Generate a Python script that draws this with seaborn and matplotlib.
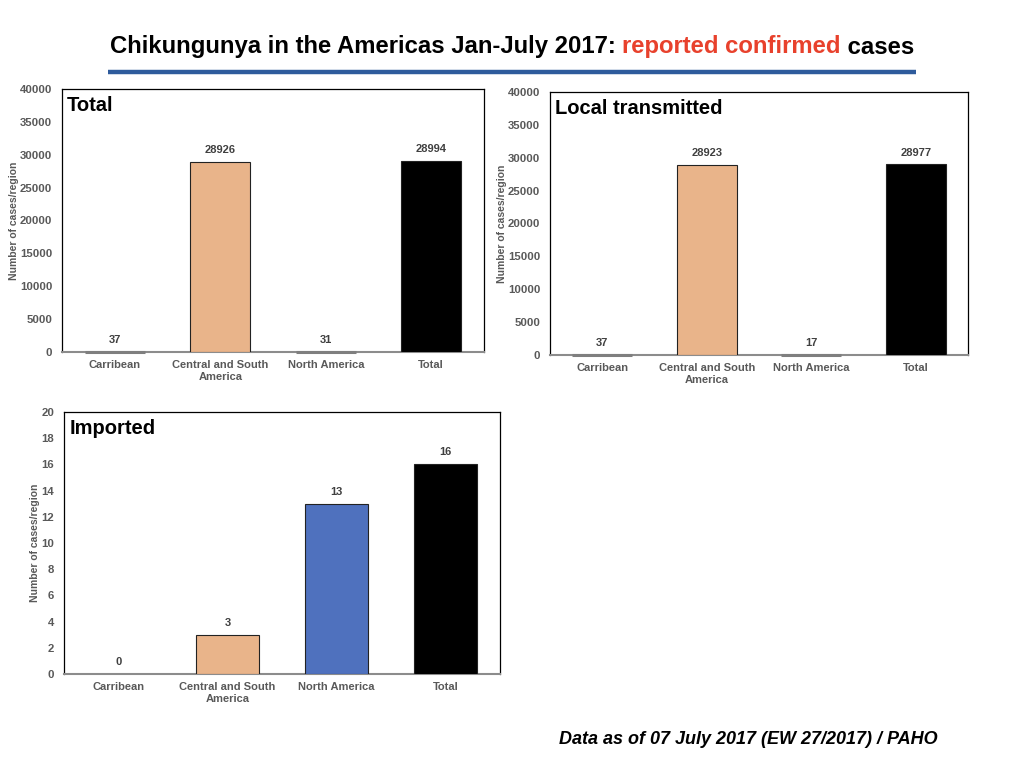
import numpy as np
import pandas as pd
import matplotlib
matplotlib.use("Agg")
import matplotlib.pyplot as plt
import seaborn as sns

# data
regions = ["Carribean", "Central and South\nAmerica", "North America", "Total"]
total_cases = [37, 28926, 31, 28994]
local_cases = [37, 28923, 17, 28977]
imported_cases = [0, 3, 13, 16]

bar_colors = ["#A5A5A5", "#E9B48A", "#4F71BE", "#000000"]

sns.set_theme(style="white")
plt.rcParams['font.family'] = ['Liberation Sans', 'DejaVu Sans']

fig = plt.figure(figsize=(10.24, 7.68), dpi=100)

def px_axes(x0, y0, x1, y1):
    # pixel box (top-left origin) -> figure fraction
    return fig.add_axes([x0 / 1024, 1 - y1 / 768, (x1 - x0) / 1024, (y1 - y0) / 768])

def panel(ax, values, name, ymax, step):
    df = pd.DataFrame({"region": regions, "cases": values})
    sns.barplot(data=df, x="region", y="cases", hue="region", palette=bar_colors,
                saturation=1, width=0.57, edgecolor="#222222", linewidth=0.8,
                legend=False, ax=ax)
    # tiny bars show up as a grey line on the axis
    for p, v in zip(ax.patches, values):
        p.set_zorder(3)
        if v == 0:
            p.set_visible(False)
        elif v < ymax * 0.01:
            p.set_edgecolor("#7F7F7F")
            p.set_facecolor("#7F7F7F")
            p.set_linewidth(2.2)
            p.set_clip_on(False)
    ax.set_ylim(0, ymax)
    ax.set_yticks(np.arange(0, ymax + 1, step))
    ax.set_xlim(-0.5, 3.5)
    ax.tick_params(axis="y", length=0, labelsize=8.2, labelcolor="#595959", pad=7)
    ax.tick_params(axis="x", length=0, labelsize=8, labelcolor="#595959", pad=6)
    for lab in ax.get_xticklabels() + ax.get_yticklabels():
        lab.set_fontweight("bold")
    ax.set_xlabel("")
    ax.set_ylabel("Number of cases/region", fontsize=7.5, fontweight="bold", color="#595959", labelpad=1)
    for s in ["left", "top", "right"]:
        ax.spines[s].set_color("black")
        ax.spines[s].set_linewidth(0.9)
    ax.spines["bottom"].set_color("#8C8C8C")
    ax.spines["bottom"].set_linewidth(1.5)
    for i, v in enumerate(values):
        ax.annotate(str(v), (i, v), xytext=(0, 5), textcoords="offset points",
                    ha="center", va="bottom", fontsize=8, fontweight="bold", color="#404040")
    ax.text(0.012, 0.975, name, transform=ax.transAxes, ha="left", va="top",
            fontsize=14.5, fontweight="bold", color="black")

ax1 = px_axes(62, 89, 484, 352)
panel(ax1, total_cases, "Total", 40000, 5000)
ax2 = px_axes(550, 92, 968, 355)
panel(ax2, local_cases, "Local transmitted", 40000, 5000)
ax3 = px_axes(64, 412, 500, 674)
panel(ax3, imported_cases, "Imported", 20, 2)

# title in three colours
fig.canvas.draw()
r = fig.canvas.get_renderer()
parts = [("Chikungunya in the Americas Jan-July 2017: ", "black"),
         ("reported confirmed", "#E8412C"),
         (" cases", "black")]
texts = []
for s, c in parts:
    t = fig.text(0, 1 - 47 / 768, s, fontsize=17.2, fontweight="bold", color=c, va="center", ha="left")
    texts.append(t)
widths = [t.get_window_extent(r).width for t in texts]
x = (512 - sum(widths) / 2)
for t, w in zip(texts, widths):
    t.set_x(x / 1024)
    x += w

fig.add_artist(plt.Line2D([108 / 1024, 916 / 1024], [1 - 72 / 768, 1 - 72 / 768],
                          color="#2E5B9C", linewidth=3.2, solid_capstyle="butt"))

fig.text(938 / 1024, 1 - 740 / 768, "Data as of 07 July 2017 (EW 27/2017) / PAHO",
         ha="right", va="center", fontsize=13, fontweight="bold", fontstyle="italic", color="black")

fig.savefig("out.png", dpi=100)
